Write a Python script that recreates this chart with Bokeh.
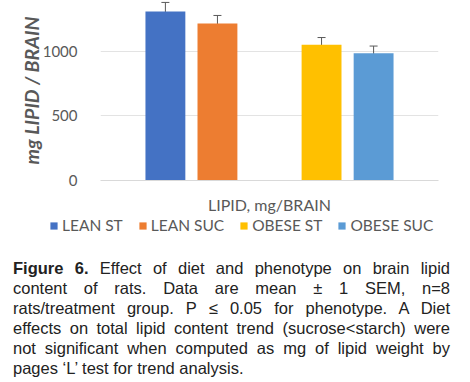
from bokeh.plotting import figure
from bokeh.models import (ColumnDataSource, FactorRange, Range1d, Legend, LegendItem,
                          Whisker, TeeHead, Div)
from bokeh.transform import dodge
from bokeh.layouts import column, row
from bokeh.embed import file_html
from bokeh.resources import INLINE

category = ["LIPID, mg/BRAIN"]
series = ["LEAN ST", "LEAN SUC", "OBESE ST", "OBESE SUC"]
slot = [0, 1, 3, 4]            # Excel slot index (slot 2 is an empty series)
means = [1310, 1217, 1052, 987]
sems = [70, 62, 56, 55]
colors = ["#4472C4", "#ED7D31", "#FFC000", "#5B9BD5"]
y_ticks = [0, 500, 1000]

caption_lines = [
    "<b>Figure 6.</b> Effect of diet and phenotype on brain lipid",
    "content of rats. Data are mean &plusmn; 1 SEM, n=8",
    "rats/treatment group. P &le; 0.05 for phenotype. A Diet",
    "effects on total lipid content trend (sucrose&lt;starch) were",
    "not significant when computed as mg of lipid weight by",
]
caption_last = "pages &lsquo;L&rsquo; test for trend analysis."

FONT = "Lato"
GRAY = "#595959"

# ---- main chart ----
p = figure(width=470, height=216, x_range=FactorRange(factors=category, range_padding=0),
           y_range=Range1d(0, 1395), output_backend="svg", toolbar_location=None,
           min_border_left=100, min_border_right=32, min_border_top=0, min_border_bottom=36)
p.outline_line_color = None
p.background_fill_color = "white"

step = 0.154
bar_w = 0.118
sources = []
for name, s, m, e, c in zip(series, slot, means, sems, colors):
    src = ColumnDataSource(dict(cat=category, top=[m], upper=[m + e], lower=[m - e]))
    sources.append(src)
    off = (s - 2) * step
    p.vbar(x=dodge("cat", off, range=p.x_range), top="top", width=bar_w, source=src,
           fill_color=c, line_color=None)
    w = Whisker(base=dodge("cat", off, range=p.x_range), upper="upper", lower="lower",
                source=src, line_color=GRAY, line_width=1,
                upper_head=TeeHead(size=8, line_color=GRAY, line_width=1),
                lower_head=TeeHead(size=8, line_color=GRAY, line_width=1))
    p.add_layout(w)

p.yaxis.ticker = y_ticks
p.yaxis.axis_line_color = None
p.yaxis.major_tick_line_color = None
p.yaxis.minor_tick_line_color = None
p.yaxis.major_label_text_font = FONT
p.yaxis.major_label_text_font_size = "15px"
p.yaxis.major_label_text_color = GRAY
p.yaxis.major_label_standoff = 17
p.yaxis.axis_label = "mg LIPID / BRAIN"
p.yaxis.axis_label_text_font = FONT
p.yaxis.axis_label_text_font_style = "bold italic"
p.yaxis.axis_label_text_font_size = "19.5px"
p.yaxis.axis_label_text_color = GRAY
p.yaxis.axis_label_standoff = -3

p.xaxis.axis_line_color = "#D9D9D9"
p.xaxis.major_tick_line_color = None
p.xaxis.minor_tick_line_color = None
p.xaxis.major_label_text_font = FONT
p.xaxis.major_label_text_font_size = "16px"
p.xaxis.major_label_text_color = GRAY
p.xaxis.major_label_standoff = 8

p.xgrid.grid_line_color = None
p.ygrid.grid_line_color = "#E3E3E3"
p.ygrid.ticker = y_ticks

# ---- legend strip (own frame spanning the full width) ----
lg = figure(width=470, height=20, x_range=FactorRange(factors=category),
            y_range=Range1d(0, 1), output_backend="svg", toolbar_location=None,
            min_border_left=0, min_border_right=0, min_border_top=0, min_border_bottom=0)
lg.axis.visible = False
lg.grid.visible = False
lg.outline_line_color = None
items = []
for name, c, src in zip(series, colors, sources):
    r = lg.vbar(x="cat", top="top", width=0.1, source=src, fill_color=c, line_color=None,
                visible=False)
    items.append(LegendItem(label=name, renderers=[r]))
legend = Legend(items=items, orientation="horizontal", location=(49, 2),
                padding=0, margin=0, spacing=15, label_standoff=4,
                glyph_width=9, glyph_height=9, label_height=17,
                label_text_font=FONT, label_text_font_size="15.5px", label_text_color=GRAY,
                inactive_fill_alpha=0, click_policy="none",
                border_line_color=None, background_fill_alpha=0)
lg.add_layout(legend, "center")

# ---- caption ----
line_style = ("display:block;text-align:justify;text-align-last:justify;"
              "width:437px;white-space:normal;")
html = "".join(f'<div style="{line_style}">{t}</div>' for t in caption_lines)
html += f'<div style="display:block;text-align:left;width:437px;">{caption_last}</div>'
div = Div(text=html, width=462, height=140,
          styles={"font-family": "Liberation Sans", "font-size": "16.5px",
                  "line-height": "20px", "color": "#222222",
                  "padding-top": "17px", "padding-left": "8px"})

layout = column(p, row(lg), div, spacing=0)
open("out.html", "w").write(file_html(layout, INLINE))
